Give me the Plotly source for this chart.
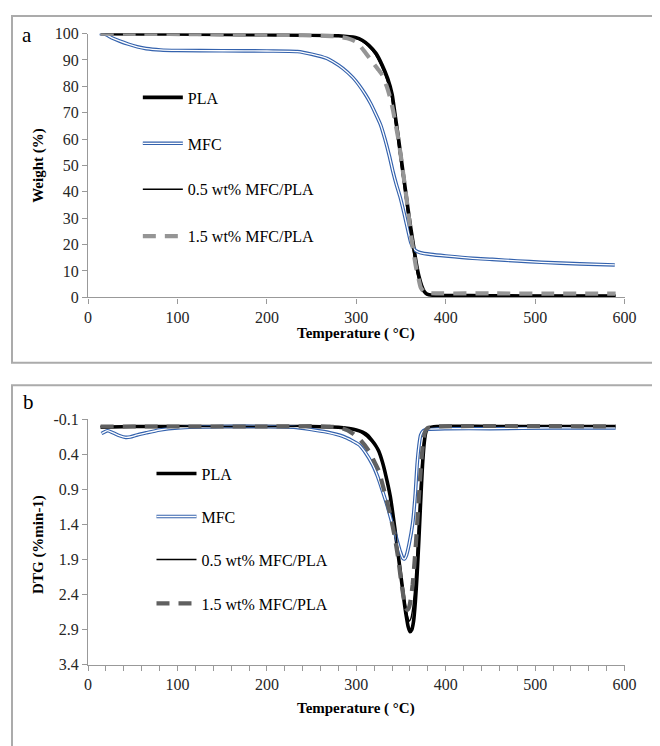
import plotly.graph_objects as go

# ---------------- Panel a: TGA (Weight %) ----------------
T_pla_a = [14, 60, 120, 180, 240, 280, 299, 307, 314, 322, 329, 335, 340, 343, 346, 349, 352, 355, 358, 361, 364, 367, 370, 373, 376, 379, 385, 400, 450, 520, 590]
W_pla_a = [100, 99.9, 99.8, 99.6, 99.4, 99.2, 98.5, 97.4, 95.6, 92.5, 88, 83, 77, 70, 63, 55.5, 48, 40.5, 33, 26, 19.5, 13, 8, 4.5, 2.2, 1.2, 0.8, 0.7, 0.6, 0.5, 0.5]

T_mfc_a = [13, 20, 26, 35, 45, 55, 65, 81, 100, 150, 200, 234, 250, 267, 274, 285, 296, 303, 310, 316, 321, 327, 332, 337, 341, 345, 349, 353, 356, 359, 361, 364, 367, 372, 383, 400, 430, 452, 480, 507, 550, 589]
W_mfc_a = [100, 99.6, 98.5, 97.2, 96, 95, 94.3, 93.8, 93.6, 93.5, 93.4, 93.2, 92.2, 90.6, 89.3, 86.8, 83.4, 80.5, 77, 73.5, 70, 65.5, 60, 53.5, 47.6, 42.5, 38, 32.5, 28, 23.5, 20.7, 18.6, 17.6, 16.9, 16.3, 15.7, 14.8, 14.4, 13.8, 13.3, 12.7, 12.3]

T_05_a = [14, 60, 120, 180, 240, 280, 298, 306, 313, 321, 328, 334, 339, 342, 345, 348, 351, 354, 357, 360, 363, 366, 369, 372, 375, 378, 385, 400, 450, 520, 590]
W_05_a = [100, 99.9, 99.8, 99.6, 99.4, 99.1, 98.4, 97.2, 95.3, 92.2, 87.6, 82.5, 76.5, 69.5, 62.5, 55, 47.5, 40, 32.5, 25.5, 19, 12.5, 7.6, 4.2, 2.1, 1.3, 0.9, 0.8, 0.8, 0.7, 0.7]

T_15_a = [14, 60, 120, 180, 240, 275, 290, 299, 305, 310, 318, 324, 329, 334, 338, 341, 344, 347, 350, 352, 355, 357, 360, 362, 365, 367, 370, 372, 375, 379, 390, 450, 520, 590]
W_15_a = [100, 99.9, 99.8, 99.6, 99.4, 99, 98.2, 97, 95, 92.8, 89.2, 86.6, 84.3, 80, 75.5, 71, 65.5, 60, 53, 48, 40.5, 35, 27, 21.5, 15, 11, 6.5, 3.8, 2.3, 1.7, 1.5, 1.5, 1.4, 1.4]

# ---------------- Panel b: DTG ----------------
T_pla_b = [14, 50, 100, 150, 200, 250, 280, 292, 300, 307, 313, 318, 322, 325, 329, 333, 338, 343, 347, 350, 353, 356, 358, 360, 362, 364, 366, 368, 370, 372, 374, 376, 378, 381, 390, 450, 520, 590]
D_pla_b = [0.01, 0.0, 0.0, 0.0, 0.0, 0.0, 0.01, 0.03, 0.05, 0.08, 0.13, 0.21, 0.28, 0.35, 0.5, 0.7, 1.0, 1.45, 1.85, 2.15, 2.45, 2.72, 2.86, 2.93, 2.9, 2.78, 2.5, 2.1, 1.6, 1.05, 0.55, 0.22, 0.07, 0.02, 0.0, 0.0, 0.0, 0.0]

T_mfc_b = [15, 18, 22, 28, 35, 42, 47, 55, 65, 80, 100, 150, 200, 230, 248, 267, 285, 295, 303, 310, 318, 324, 329, 335, 340, 345, 349, 352, 354, 356, 359, 363, 366, 368, 370, 372, 375, 380, 400, 450, 520, 590]
D_mfc_b = [0.1, 0.08, 0.06, 0.09, 0.13, 0.155, 0.15, 0.12, 0.09, 0.05, 0.02, 0.0, 0.0, 0.01, 0.04, 0.08, 0.14, 0.2, 0.26, 0.37, 0.54, 0.72, 0.91, 1.15, 1.38, 1.6, 1.78, 1.88, 1.89, 1.84, 1.68, 1.38, 0.95, 0.54, 0.28, 0.12, 0.06, 0.04, 0.03, 0.03, 0.02, 0.02]

T_05_b = [14, 100, 200, 270, 285, 295, 303, 310, 316, 320, 324, 328, 333, 338, 343, 347, 350, 353, 356, 358, 359, 361, 363, 365, 367, 369, 371, 373, 375, 377, 380, 390, 590]
D_05_b = [0.0, 0.0, 0.0, 0.0, 0.01, 0.03, 0.07, 0.13, 0.2, 0.25, 0.33, 0.47, 0.68, 1.0, 1.42, 1.8, 2.1, 2.4, 2.62, 2.74, 2.78, 2.74, 2.6, 2.35, 1.95, 1.5, 1.0, 0.55, 0.25, 0.08, 0.02, 0.0, 0.0]

T_15_b = [14, 100, 200, 270, 285, 296, 305, 314, 320, 325, 332, 338, 343, 347, 350, 353, 355, 357, 359, 361, 363, 365, 367, 369, 371, 373, 375, 377, 380, 390, 590]
D_15_b = [0.0, 0.0, 0.0, 0.0, 0.03, 0.1, 0.2, 0.35, 0.5, 0.63, 0.96, 1.26, 1.58, 1.9, 2.2, 2.45, 2.58, 2.62, 2.58, 2.45, 2.25, 1.95, 1.6, 1.2, 0.8, 0.45, 0.2, 0.07, 0.02, 0.0, 0.0]

names = ["PLA", "MFC", "0.5 wt% MFC/PLA", "1.5 wt% MFC/PLA"]
x_ticks = [0, 100, 200, 300, 400, 500, 600]
y_ticks_a = [0, 10, 20, 30, 40, 50, 60, 70, 80, 90, 100]
y_ticks_b = [-0.1, 0.4, 0.9, 1.4, 1.9, 2.4, 2.9, 3.4]
y_ticktext_b = ["-0.1", "0.4", "0.9", "1.4", "1.9", "2.4", "2.9", "3.4"]

# page body has an 8px margin: figure is placed at (8, 8) in the window
OFF = 8
W, H = 660 - OFF, 746 - OFF
def px(x):
    return (x - OFF) / W
def py(y):
    return 1 - (y - OFF) / H

SERIF = "Liberation Serif"
BLUE = "#3462ad"
AXC = "#999999"
LEG_C = 18  # offset from legend top to row centre

fig = go.Figure()
layout_legends = {}

def make_legend(key, x, row_y, transparent=False):
    layout_legends[key] = dict(
        x=px(x), y=py(row_y - LEG_C), xanchor="left", yanchor="top", bgcolor="rgba(0,0,0,0)",
        font=dict(family=SERIF, size=16, color="rgba(0,0,0,0)" if transparent else "black"),
        itemwidth=40)

def add_set(xa, ya, base, leg_x, rows, T1, Y1, T2, Y2, T3, Y3, T4, Y4, gray):
    sm = 0.6
    keys = ["legend%d" % (base + i) if base + i > 1 else "legend" for i in range(5)]
    for i, r in enumerate(rows):
        make_legend(keys[i], leg_x, r)
    make_legend(keys[4], leg_x, rows[1], transparent=True)
    fig.add_trace(go.Scatter(x=T1, y=Y1, name=names[0], mode="lines", xaxis=xa, yaxis=ya,
                             line=dict(color="black", width=3.6, shape="spline", smoothing=sm),
                             legend=keys[0]))
    fig.add_trace(go.Scatter(x=T2, y=Y2, name=names[1], mode="lines", xaxis=xa, yaxis=ya,
                             line=dict(color=BLUE, width=3.6, shape="spline", smoothing=sm),
                             legend=keys[1]))
    fig.add_trace(go.Scatter(x=T2, y=Y2, name=names[1], mode="lines", xaxis=xa, yaxis=ya,
                             line=dict(color="white", width=1.3, shape="spline", smoothing=sm),
                             legend=keys[4], hoverinfo="skip"))
    fig.add_trace(go.Scatter(x=T3, y=Y3, name=names[2], mode="lines", xaxis=xa, yaxis=ya,
                             line=dict(color="black", width=1.4, shape="spline", smoothing=sm),
                             legend=keys[2]))
    fig.add_trace(go.Scatter(x=T4, y=Y4, name=names[3], mode="lines", xaxis=xa, yaxis=ya,
                             line=dict(color=gray, width=4.2, dash="13px,9px", shape="spline", smoothing=sm),
                             legend=keys[3]))

add_set("x", "y", 1, 137, [92, 139, 186, 234],
        T_pla_a, W_pla_a, T_mfc_a, W_mfc_a, T_05_a, W_05_a, T_15_a, W_15_a, "#959595")
add_set("x2", "y2", 6, 151, [477, 521, 565, 610],
        T_pla_b, D_pla_b, T_mfc_b, D_mfc_b, T_05_b, D_05_b, T_15_b, D_15_b, "#606060")

xdom = [px(86), px(636)]
tickfont = dict(family=SERIF, size=16, color="#262626")
common_x = dict(range=[0, 600], tickvals=x_ticks, showgrid=False, zeroline=False, showline=True,
                linecolor=AXC, linewidth=1.3, ticks="outside", ticklen=5, tickcolor=AXC,
                tickfont=tickfont, domain=xdom, fixedrange=True)

fig.update_layout(
    width=W, height=H, margin=dict(l=0, r=0, t=0, b=0),
    paper_bgcolor="white", plot_bgcolor="white", showlegend=True,
    xaxis=dict(anchor="y", **common_x),
    xaxis2=dict(anchor="y2", minor=dict(dtick=20, ticks="outside", ticklen=5, tickcolor=AXC), **common_x),
    yaxis=dict(range=[0, 100], tickvals=y_ticks_a, domain=[py(296), py(26)], anchor="x",
               showgrid=False, zeroline=False, showline=True, linecolor=AXC, linewidth=1.3,
               ticks="outside", ticklen=5, tickcolor=AXC, tickfont=tickfont),
    yaxis2=dict(range=[3.4, -0.1], tickvals=y_ticks_b, ticktext=y_ticktext_b, domain=[py(672), py(421)],
                anchor="x2", showgrid=False, zeroline=False, showline=True, linecolor=AXC, linewidth=1.3,
                ticks="outside", ticklen=5, tickcolor=AXC, tickfont=tickfont),
    **layout_legends,
)

# panel frames
fig.add_shape(type="rect", xref="paper", yref="paper", x0=px(8), x1=px(690), y0=py(363), y1=py(8),
              line=dict(color="#ababab", width=2), fillcolor="rgba(0,0,0,0)", layer="below")
fig.add_shape(type="rect", xref="paper", yref="paper", x0=px(8), x1=px(690), y0=py(790), y1=py(386),
              line=dict(color="#ababab", width=2), fillcolor="rgba(0,0,0,0)", layer="below")

ann = [
    dict(text="a", x=px(23), y=py(27), size=21, bold=False, angle=0),
    dict(text="b", x=px(25), y=py(403), size=21, bold=False, angle=0),
    dict(text="Weight (%)", x=px(35), y=py(161), size=15, bold=True, angle=-90),
    dict(text="DTG (%min-1)", x=px(35), y=py(549), size=15, bold=True, angle=-90),
    dict(text="Temperature ( °C)", x=px(361), y=py(333), size=15, bold=True, angle=0),
    dict(text="Temperature ( °C)", x=px(361), y=py(717), size=15, bold=True, angle=0),
]
for a in ann:
    fig.add_annotation(text=("<b>%s</b>" % a["text"]) if a["bold"] else a["text"], x=a["x"], y=a["y"],
                       xref="paper", yref="paper", showarrow=False, textangle=a["angle"],
                       xanchor="center", yanchor="middle",
                       font=dict(family=SERIF, size=a["size"], color="black"))

fig.write_html("out.html")
